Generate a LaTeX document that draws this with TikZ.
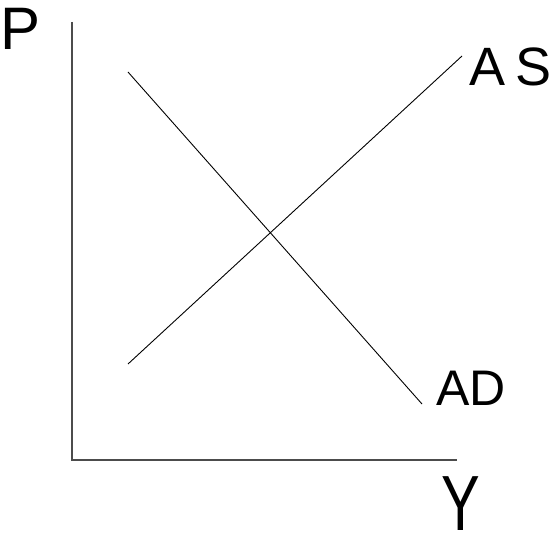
\documentclass[tikz,border=0pt]{standalone}
\usepackage{fontspec}
\setmainfont{Liberation Sans}
\begin{document}
\begin{tikzpicture}[x=1pt,y=1pt,
  axis/.style={draw=black!70,line width=1.4pt},
  curve/.style={draw=black,line width=0.9pt},
  lbl/.style={inner sep=0pt,anchor=center,text=black}]
\useasboundingbox (0,0) rectangle (557,546);
\fill[white] (0,0) rectangle (557,546);
\coordinate (ytop) at (72,524);
\coordinate (origin) at (72,86);
\coordinate (xend) at (457,86);
\coordinate (as1) at (128,182);
\coordinate (as2) at (462,490);
\coordinate (ad1) at (128,474);
\coordinate (ad2) at (422,142);
\draw[axis] (ytop) -- (origin) -- (xend);
\draw[curve] (as1) -- (as2);
\draw[curve] (ad1) -- (ad2);
\node[lbl,font=\fontsize{60}{60}\selectfont] (P) at (21,517) {P};
\node[lbl,font=\fontsize{54}{54}\selectfont] (AS) at (511,479) {A\hspace{10pt}S};
\node[lbl,font=\fontsize{50}{50}\selectfont] (AD) at (471,158) {AD};
\node[lbl,font=\fontsize{58}{58}\selectfont,yscale=1.35] (Y) at (461,42) {Y};
\end{tikzpicture}
\end{document}
